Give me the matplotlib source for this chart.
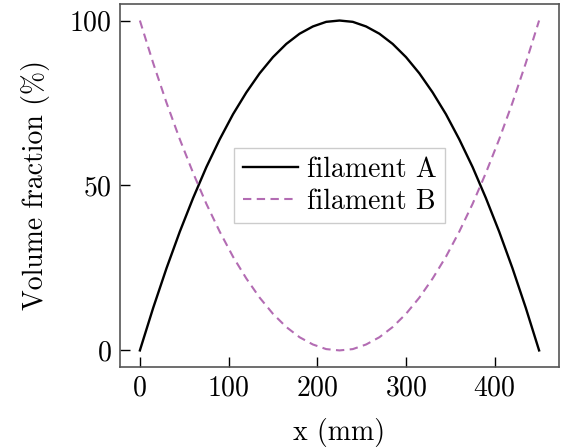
import matplotlib
matplotlib.use("Agg")
import matplotlib.pyplot as plt

# values (x in mm, volume fraction in %)
x_mm = [0, 15, 30, 45, 60, 75, 90, 105, 120, 135, 150, 165, 180, 195, 210,
        225, 240, 255, 270, 285, 300, 315, 330, 345, 360, 375, 390, 405,
        420, 435, 450]
frac_a = [0, 12.9, 24.9, 36.0, 46.2, 55.6, 64.0, 71.6, 78.2, 84.0, 88.9,
          92.9, 96.0, 98.2, 99.6, 100, 99.6, 98.2, 96.0, 92.9, 88.9, 84.0,
          78.2, 71.6, 64.0, 55.6, 46.2, 36.0, 24.9, 12.9, 0]
frac_b = [100, 87.1, 75.1, 64.0, 53.8, 44.4, 36.0, 28.4, 21.8, 16.0, 11.1,
          7.1, 4.0, 1.8, 0.4, 0, 0.4, 1.8, 4.0, 7.1, 11.1, 16.0, 21.8, 28.4,
          36.0, 44.4, 53.8, 64.0, 75.1, 87.1, 100]

plt.rcParams["font.family"] = ["cmr10", "DejaVu Serif"]
plt.rcParams["mathtext.fontset"] = "cm"
plt.rcParams["axes.formatter.use_mathtext"] = True
plt.rcParams["font.size"] = 20

fig, ax = plt.subplots(figsize=(5.63, 4.48), dpi=100)

ax.plot(x_mm, frac_a, color="black", linewidth=1.7, label="filament A")
ax.plot(x_mm, frac_b, color="#b36cb3", linewidth=1.5, dashes=(4, 2.6),
        label="filament B")

ax.set_xticks([0, 100, 200, 300, 400])
ax.set_yticks([0, 50, 100])
ax.tick_params(direction="in", length=7, width=1, labelsize=20, pad=6)
for s in ax.spines.values():
    s.set_color("#555555")
    s.set_linewidth(1.2)

ax.set_xlabel("x (mm)", fontsize=20, labelpad=12)
ax.set_ylabel("Volume fraction (%)", fontsize=20, labelpad=14)

leg = ax.legend(loc="center", fancybox=False, framealpha=1, handlelength=2,
                handletextpad=0.3, borderpad=0.3, labelspacing=0.2,
                fontsize=20)
leg.get_frame().set_edgecolor("#cccccc")

fig.subplots_adjust(left=0.213, right=0.993, top=0.991, bottom=0.181)
fig.savefig("out.png", dpi=100)
